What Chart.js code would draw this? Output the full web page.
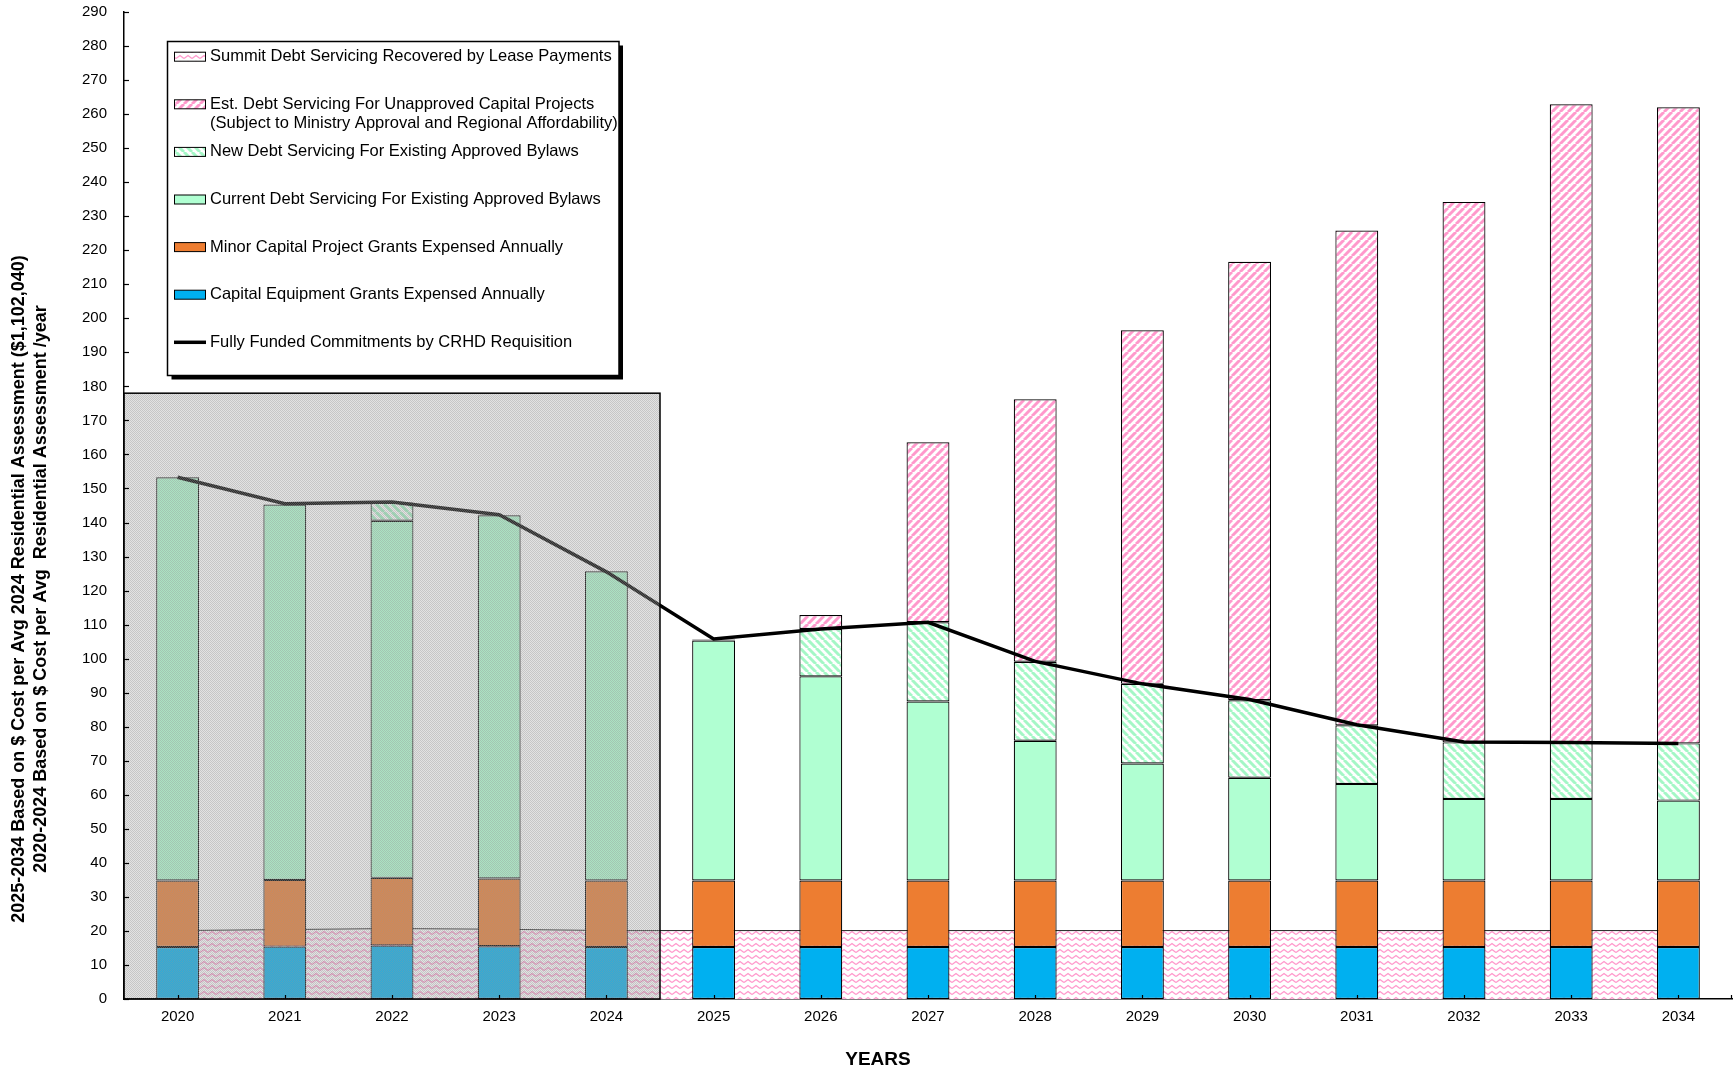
<!DOCTYPE html>
<html>
<head>
<meta charset="utf-8">
<script src="https://cdn.jsdelivr.net/npm/chart.js@4.4.1/dist/chart.umd.min.js"></script>
<style>
  html, body { margin: 0; padding: 0; background: #ffffff; }
  canvas { display: block; }
</style>
</head>
<body>
<canvas id="chart" width="1735" height="1073"></canvas>
<script>
// ---- Data -------------------------------------------------------------
const years = ['2020','2021','2022','2023','2024','2025','2026','2027','2028','2029','2030','2031','2032','2033','2034'];

const capitalEquipment = [15.3, 15.4, 15.7, 15.5, 15.3, 15.3, 15.3, 15.3, 15.3, 15.3, 15.3, 15.3, 15.3, 15.3, 15.3];
const minorCapital     = [19.5, 19.6, 19.9, 19.9, 19.5, 19.5, 19.5, 19.5, 19.5, 19.5, 19.5, 19.5, 19.5, 19.5, 19.5];
const currentDebt      = [118.5, 110.3, 104.9, 106.7, 90.9, 70.5, 60.0, 52.6, 41.1, 34.4, 30.2, 28.4, 24.0, 24.0, 23.5];
const newDebt          = [null, null, 5.4, null, null, 0.3, 13.9, 23.3, 23.2, 23.4, 22.8, 17.2, 16.6, 16.6, 16.8];
const unapprovedDebt   = [null, null, null, null, null, null, 4.1, 52.9, 77.1, 103.9, 128.8, 145.4, 158.8, 187.5, 186.9];
const summitLease      = [20.1, 20.4, 20.7, 20.5, 20.1, 20.1, 20.1, 20.1, 20.1, 20.1, 20.1, 20.1, 20.1, 20.1, 20.1];
const fullyFunded      = [153.3, 145.5, 146.0, 142.3, 125.5, 105.8, 108.7, 110.7, 99.2, 92.6, 88.0, 80.6, 75.5, 75.4, 75.1];

// Historical (actuals) period shaded on the chart
const historicalRange = ['2020', '2024'];
const historicalCeiling = 178;

const yTitleLines = [
  '2025-2034 Based on $ Cost per Avg 2024 Residential Assessment ($1,102,040)',
  '2020-2024 Based on $ Cost per Avg  Residential Assessment /year'
];
const xTitle = 'YEARS';

// ---- Fill patterns -----------------------------------------------------
const canvas = document.getElementById('chart');
const ctx = canvas.getContext('2d');

function makePattern(w, h, draw) {
  const tile = document.createElement('canvas');
  tile.width = w; tile.height = h;
  const g = tile.getContext('2d');
  draw(g, w, h);
  return ctx.createPattern(tile, 'repeat');
}

const pinkHatch = makePattern(8, 8, (g, w, h) => {
  g.fillStyle = '#ffffff'; g.fillRect(0, 0, w, h);
  g.strokeStyle = '#ff99cc'; g.lineWidth = 3;
  for (let k = -8; k <= 8; k += 8) {
    g.beginPath(); g.moveTo(k, h); g.lineTo(k + w, 0); g.stroke();
  }
});

const greenHatch = makePattern(8, 8, (g, w, h) => {
  g.fillStyle = '#ffffff'; g.fillRect(0, 0, w, h);
  g.strokeStyle = '#a4f7c6'; g.lineWidth = 3;
  for (let k = -8; k <= 8; k += 8) {
    g.beginPath(); g.moveTo(k, 0); g.lineTo(k + w, h); g.stroke();
  }
});

const zigzag = makePattern(8, 6, (g, w, h) => {
  g.fillStyle = '#ffffff'; g.fillRect(0, 0, w, h);
  g.strokeStyle = '#ff99cc'; g.lineWidth = 1.4;
  g.beginPath(); g.moveTo(0, 4.5); g.lineTo(4, 1.5); g.lineTo(8, 4.5); g.stroke();
});

const shadeTexture = makePattern(2, 2, (g) => {
  g.fillStyle = 'rgba(160,160,160,0.30)'; g.fillRect(0, 0, 2, 2);
  g.fillStyle = 'rgba(150,150,150,0.36)'; g.fillRect(0, 0, 1, 1); g.fillRect(1, 1, 1, 1);
});

// ---- Datasets ------------------------------------------------------------
const barCommon = {
  type: 'bar', stack: 'approved', order: 5,
  borderColor: '#000000', borderWidth: 1.2, borderSkipped: false,
  barPercentage: 0.5, categoryPercentage: 0.8
};

const datasets = [
  Object.assign({ label: 'Capital Equipment Grants Expensed Annually', data: capitalEquipment, backgroundColor: '#00b0f0' }, barCommon),
  Object.assign({ label: 'Minor Capital Project Grants Expensed Annually', data: minorCapital, backgroundColor: '#ed7d31' }, barCommon),
  Object.assign({ label: 'Current Debt Servicing For Existing Approved Bylaws', data: currentDebt, backgroundColor: '#b0ffd2' }, barCommon),
  Object.assign({ label: 'New Debt Servicing For Existing Approved Bylaws', data: newDebt, backgroundColor: greenHatch }, barCommon),
  Object.assign({ label: 'Est. Debt Servicing For Unapproved Capital Projects\n(Subject to Ministry Approval and Regional Affordability)', data: unapprovedDebt, backgroundColor: pinkHatch }, barCommon),
  {
    type: 'line', label: 'Summit Debt Servicing Recovered by Lease Payments', data: summitLease,
    stack: 'lease', order: 10, fill: 'origin', backgroundColor: zigzag,
    borderColor: '#222222', borderWidth: 1, pointRadius: 0, tension: 0
  },
  {
    type: 'line', label: 'Fully Funded Commitments by CRHD Requisition', data: fullyFunded,
    stack: 'requisition', order: 0, fill: false, borderColor: '#000000', borderWidth: 3.5,
    pointRadius: 0, tension: 0
  }
];

// Order in which series appear in the legend box
const legendOrder = [5, 4, 3, 2, 1, 0, 6];

// ---- Plugins -------------------------------------------------------------
const decorations = {
  id: 'decorations',
  afterDatasetsDraw(chart) {
    const { ctx, scales: { x, y } } = chart;
    // shaded historical period
    const i0 = years.indexOf(historicalRange[0]);
    const i1 = years.indexOf(historicalRange[1]);
    const half = (x.getPixelForValue(1) - x.getPixelForValue(0)) / 2;
    const left = x.getPixelForValue(i0) - half;
    const right = x.getPixelForValue(i1) + half;
    const top = y.getPixelForValue(historicalCeiling);
    const bottom = y.getPixelForValue(0);
    ctx.save();
    ctx.fillStyle = shadeTexture;
    ctx.fillRect(left, top, right - left, bottom - top);
    ctx.strokeStyle = '#000000';
    ctx.lineWidth = 1.5;
    ctx.strokeRect(left, top, right - left, bottom - top);
    ctx.restore();
  },
  afterDraw(chart) {
    const { ctx, chartArea, scales: { x, y } } = chart;
    ctx.save();
    // inside tick marks
    ctx.strokeStyle = '#000000';
    ctx.lineWidth = 1.2;
    y.ticks.forEach(t => {
      const py = Math.round(y.getPixelForValue(t.value)) + 0.5;
      ctx.beginPath(); ctx.moveTo(chartArea.left, py); ctx.lineTo(chartArea.left + 5, py); ctx.stroke();
    });
    years.forEach((_, i) => {
      const px = Math.round(x.getPixelForValue(i)) + 0.5;
      ctx.beginPath(); ctx.moveTo(px, chartArea.bottom); ctx.lineTo(px, chartArea.bottom - 4); ctx.stroke();
    });
    ctx.beginPath(); ctx.moveTo(chartArea.right - 0.5, chartArea.bottom); ctx.lineTo(chartArea.right - 0.5, chartArea.bottom - 4); ctx.stroke();

    // axis titles
    ctx.fillStyle = '#000000';
    ctx.textAlign = 'center';
    ctx.textBaseline = 'middle';
    ctx.font = 'bold 18px "Liberation Sans", Arial, sans-serif';
    ctx.save();
    ctx.translate(19, 589);
    ctx.rotate(-Math.PI / 2);
    ctx.fillText(yTitleLines[0], 0, 0);
    ctx.fillText(yTitleLines[1], 0, 22);
    ctx.restore();
    ctx.font = 'bold 19px "Liberation Sans", Arial, sans-serif';
    ctx.fillText(xTitle, 878, 1060);

    // legend box
    const bx = 167.5, by = 41.5, bw = 451.5, bh = 334;
    ctx.fillStyle = '#000000';
    ctx.fillRect(bx + 4, by + 4, bw, bh);
    ctx.fillStyle = '#ffffff';
    ctx.fillRect(bx, by, bw, bh);
    ctx.strokeStyle = '#000000';
    ctx.lineWidth = 1.5;
    ctx.strokeRect(bx, by, bw, bh);

    ctx.font = '16.5px "Liberation Sans", Arial, sans-serif';
    ctx.textAlign = 'left';
    ctx.textBaseline = 'middle';
    legendOrder.forEach((dsIndex, row) => {
      const ds = chart.data.datasets[dsIndex];
      const cy = 56.7 + row * 47.6;
      if (ds.type === 'line' && !ds.fill) {
        ctx.strokeStyle = ds.borderColor;
        ctx.lineWidth = 3.5;
        ctx.beginPath(); ctx.moveTo(174, cy); ctx.lineTo(206, cy); ctx.stroke();
      } else {
        ctx.fillStyle = ds.backgroundColor;
        ctx.fillRect(174, cy - 4.5, 32, 9);
        ctx.strokeStyle = '#000000';
        ctx.lineWidth = 1;
        ctx.strokeRect(174.5, cy - 4.5, 31, 9);
      }
      ctx.fillStyle = '#000000';
      ds.label.split('\n').forEach((line, j) => ctx.fillText(line, 210, cy + j * 19));
    });
    ctx.restore();
  }
};

// ---- Chart ---------------------------------------------------------------
new Chart(ctx, {
  data: { labels: years, datasets },
  options: {
    responsive: false,
    devicePixelRatio: 1,
    animation: false,
    layout: { padding: { top: 12, right: 3, left: 0, bottom: 0 } },
    plugins: { legend: { display: false }, tooltip: { enabled: false } },
    scales: {
      x: {
        stacked: true,
        offset: true,
        grid: { display: false, drawTicks: false },
        border: { color: '#000000', width: 1.5 },
        ticks: { color: '#000000', padding: 9, font: { family: '"Liberation Sans", Arial, sans-serif', size: 15 } },
        afterFit(scale) { scale.height = 74; scale.paddingLeft = 0; scale.paddingRight = 0; }
      },
      y: {
        stacked: true,
        min: 0,
        max: 290,
        grid: { display: false, drawTicks: false },
        border: { color: '#000000', width: 1.5 },
        ticks: { stepSize: 10, color: '#000000', padding: 17, font: { family: '"Liberation Sans", Arial, sans-serif', size: 15 } },
        afterFit(scale) { scale.width = 124; scale.paddingTop = 0; scale.paddingBottom = 0; }
      }
    }
  },
  plugins: [decorations]
});
</script>
</body>
</html>
